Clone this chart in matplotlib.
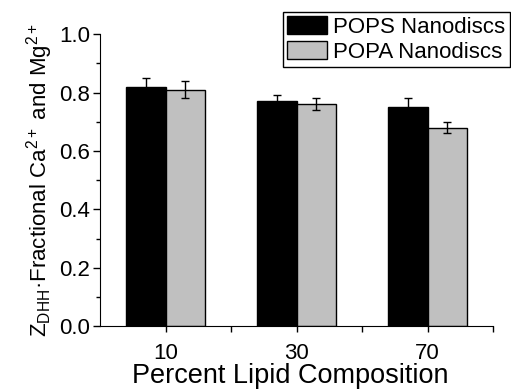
import numpy as np
import matplotlib.pyplot as plt
from matplotlib.ticker import MultipleLocator, FixedLocator, FormatStrFormatter

plt.rcParams['font.family'] = ['Liberation Sans', 'DejaVu Sans']
plt.rcParams['mathtext.fontset'] = 'custom'
plt.rcParams['mathtext.rm'] = 'Liberation Sans'
plt.rcParams['mathtext.it'] = 'Liberation Sans'

categories = ['10', '30', '70']
pops = [0.82, 0.77, 0.75]
pops_err = [0.03, 0.02, 0.03]
popa = [0.81, 0.76, 0.68]
popa_err = [0.03, 0.02, 0.02]

fig = plt.figure(figsize=(5.11, 3.92), dpi=100)
ax = fig.add_axes([0.196, 0.168, 0.769, 0.745])

x = np.arange(len(categories)) + 0.5
w = 0.3
ax.bar(x - w / 2, pops, w, color='black', edgecolor='black', linewidth=1,
       yerr=pops_err, capsize=3, error_kw=dict(elinewidth=1, capthick=1, ecolor='black'),
       label='POPS Nanodiscs')
ax.bar(x + w / 2, popa, w, color='#c0c0c0', edgecolor='black', linewidth=1,
       yerr=popa_err, capsize=3, error_kw=dict(elinewidth=1, capthick=1, ecolor='black'),
       label='POPA Nanodiscs')

ax.set_xlim(0, 3)
ax.set_ylim(0, 1.0)
ax.set_xticks(x)
ax.set_xticklabels(categories)
ax.xaxis.set_minor_locator(FixedLocator([1, 2, 3]))
ax.yaxis.set_major_locator(MultipleLocator(0.2))
ax.yaxis.set_minor_locator(MultipleLocator(0.1))
ax.yaxis.set_major_formatter(FormatStrFormatter('%.1f'))
ax.tick_params(direction='out', labelsize=16, length=5, width=1, pad=2)
ax.tick_params(axis='x', length=4, pad=8)
ax.tick_params(which='minor', direction='out', length=3, width=1)
ax.tick_params(axis='x', which='minor', length=4)
for s in ['top', 'right']:
    ax.spines[s].set_visible(False)

ax.set_xlabel('Percent Lipid Composition', fontsize=19.5)
ax.xaxis.set_label_coords(0.485, -0.125)
ax.set_ylabel(r'Z$_{\mathregular{DHH}}$·Fractional Ca$^{2+}$ and Mg$^{2+}$', fontsize=16, labelpad=3)

leg = ax.legend(loc='upper left', bbox_to_anchor=(283 / 511, 1 - 12 / 392),
                bbox_transform=fig.transFigure, fontsize=16, frameon=True,
                fancybox=False, edgecolor='black', framealpha=1,
                handlelength=1.8, handleheight=0.85, handletextpad=0.25,
                borderpad=0.2, labelspacing=0.15, borderaxespad=0)
leg.get_frame().set_linewidth(1)

fig.savefig('out.png', dpi=100)
